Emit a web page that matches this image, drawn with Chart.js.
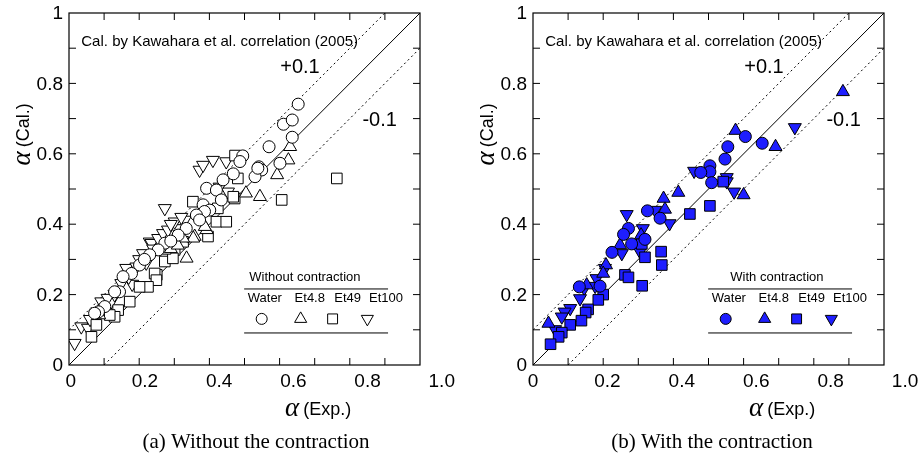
<!DOCTYPE html>
<html>
<head>
<meta charset="utf-8">
<script src="https://cdn.jsdelivr.net/npm/chart.js@4.4.1/dist/chart.umd.min.js"></script>
<style>
  html, body { margin: 0; padding: 0; background: #fff; }
  #wrap { position: relative; width: 922px; height: 466px; }
  #wrap canvas { position: absolute; top: 0; }
</style>
</head>
<body>
<div id="wrap">
  <canvas id="leftPanel" width="461" height="466" style="left:0"></canvas>
  <canvas id="rightPanel" width="461" height="466" style="left:461px"></canvas>
</div>
<script>
// [alpha Exp., alpha Cal.] pairs, without the contraction
const waterWithout = [
  [0.653, 0.741], [0.611, 0.684], [0.636, 0.696], [0.636, 0.647], [0.570, 0.620],
  [0.601, 0.573], [0.541, 0.563], [0.549, 0.554], [0.530, 0.535], [0.495, 0.594],
  [0.487, 0.578], [0.468, 0.543], [0.439, 0.526], [0.538, 0.559], [0.392, 0.502],
  [0.420, 0.497], [0.434, 0.469], [0.382, 0.455], [0.401, 0.440], [0.386, 0.436],
  [0.363, 0.426], [0.372, 0.412], [0.334, 0.388], [0.311, 0.369], [0.273, 0.346],
  [0.254, 0.327], [0.230, 0.313], [0.201, 0.284], [0.178, 0.260], [0.154, 0.251],
  [0.144, 0.208], [0.130, 0.208], [0.102, 0.166], [0.084, 0.151], [0.073, 0.147],
  [0.290, 0.352], [0.215, 0.300]
];
const et48Without = [
  [0.630, 0.620], [0.625, 0.582], [0.593, 0.540], [0.504, 0.488], [0.544, 0.478],
  [0.392, 0.384], [0.387, 0.393], [0.358, 0.365], [0.354, 0.360], [0.325, 0.360],
  [0.335, 0.303], [0.086, 0.142], [0.290, 0.330], [0.310, 0.340]
];
const et49Without = [
  [0.763, 0.530], [0.473, 0.595], [0.481, 0.530], [0.472, 0.473], [0.468, 0.478],
  [0.424, 0.445], [0.353, 0.464], [0.420, 0.407], [0.448, 0.407], [0.396, 0.365],
  [0.606, 0.469], [0.325, 0.350], [0.301, 0.327], [0.273, 0.294], [0.296, 0.303],
  [0.250, 0.256], [0.244, 0.260], [0.249, 0.241], [0.225, 0.222], [0.201, 0.222],
  [0.173, 0.180], [0.140, 0.156], [0.130, 0.137], [0.116, 0.142], [0.078, 0.114],
  [0.064, 0.080], [0.275, 0.330]
];
const et100Without = [
  [0.016, 0.062], [0.035, 0.109], [0.054, 0.105], [0.078, 0.147], [0.092, 0.180],
  [0.120, 0.180], [0.149, 0.232], [0.180, 0.230], [0.163, 0.275], [0.192, 0.279],
  [0.211, 0.317], [0.230, 0.350], [0.235, 0.346], [0.254, 0.360], [0.268, 0.374],
  [0.282, 0.384], [0.306, 0.388], [0.301, 0.407], [0.330, 0.412], [0.273, 0.445],
  [0.372, 0.554], [0.382, 0.568], [0.410, 0.582], [0.448, 0.578], [0.453, 0.492],
  [0.429, 0.506], [0.260, 0.330], [0.220, 0.290], [0.240, 0.330], [0.200, 0.300],
  [0.170, 0.250], [0.130, 0.200], [0.110, 0.190], [0.290, 0.400], [0.320, 0.420],
  [0.060, 0.130], [0.100, 0.160]
];

// [alpha Exp., alpha Cal.] pairs, with the contraction
const waterWith = [
  [0.605, 0.649], [0.653, 0.630], [0.555, 0.620], [0.547, 0.585], [0.504, 0.566],
  [0.504, 0.549], [0.478, 0.547], [0.509, 0.518], [0.326, 0.438], [0.362, 0.417],
  [0.272, 0.388], [0.258, 0.371], [0.319, 0.357], [0.281, 0.344], [0.225, 0.320],
  [0.191, 0.224], [0.132, 0.222]
];
const et48With = [
  [0.883, 0.776], [0.577, 0.666], [0.691, 0.620], [0.600, 0.483], [0.414, 0.490],
  [0.372, 0.473], [0.376, 0.442], [0.308, 0.369], [0.248, 0.341], [0.208, 0.284],
  [0.200, 0.260], [0.153, 0.227], [0.044, 0.118]
];
const et49With = [
  [0.542, 0.521], [0.504, 0.452], [0.447, 0.429], [0.310, 0.344], [0.365, 0.322],
  [0.367, 0.284], [0.319, 0.306], [0.262, 0.256], [0.272, 0.249], [0.311, 0.225],
  [0.200, 0.200], [0.186, 0.185], [0.157, 0.158], [0.150, 0.149], [0.138, 0.126],
  [0.106, 0.114], [0.082, 0.092], [0.073, 0.080], [0.050, 0.059]
];
const et100With = [
  [0.746, 0.675], [0.459, 0.551], [0.552, 0.533], [0.552, 0.521], [0.573, 0.492],
  [0.348, 0.440], [0.389, 0.402], [0.267, 0.428], [0.313, 0.388], [0.305, 0.322],
  [0.253, 0.317], [0.205, 0.275], [0.181, 0.246], [0.177, 0.224], [0.146, 0.218],
  [0.134, 0.189], [0.106, 0.161], [0.090, 0.151], [0.082, 0.137], [0.063, 0.101]
];

const fluidNames = ['Water', 'Et4.8', 'Et49', 'Et100'];
const xTickLabels = ['0', '0.2', '0.4', '0.6', '0.8', '1.0'];
const yTickLabels = ['0', '0.2', '0.4', '0.6', '0.8', '1'];
const majorTicks = [0, 0.2, 0.4, 0.6, 0.8, 1.0];
const minorTicks = [0.1, 0.2, 0.3, 0.4, 0.5, 0.6, 0.7, 0.8, 0.9];
const bandOffsets = [0, 0.1, -0.1];   // 1:1 line and the +/-0.1 band

// marker shape for each fluid (same order as fluidNames)
const markers = [
  { pointStyle: 'circle', radius: 6, rotation: 0 },
  { pointStyle: 'triangle', radius: 7.5, rotation: 0 },
  { pointStyle: 'rect', radius: 7.5, rotation: 0 },
  { pointStyle: 'triangle', radius: 7.5, rotation: 180 }
];

const SANS = '"Liberation Sans", Arial, sans-serif';
const SERIF = '"Liberation Serif", "Times New Roman", serif';

function bandLine(off) {
  const pts = off >= 0
    ? [{ x: 0, y: off }, { x: 1 - off, y: 1 }]
    : [{ x: -off, y: 0 }, { x: 1, y: 1 + off }];
  return {
    data: pts, showLine: true, pointRadius: 0, borderColor: '#000',
    borderWidth: 1, borderDash: off === 0 ? [] : [2, 3], order: 10
  };
}

function markerSet(points, m, fill) {
  return {
    data: points.map(p => ({ x: p[0], y: p[1] })),
    pointStyle: m.pointStyle, pointRadius: m.radius, pointRotation: m.rotation,
    pointBackgroundColor: fill, pointBorderColor: '#000', pointBorderWidth: 1,
    showLine: false, order: 1
  };
}

function drawAlphaTitle(ctx, label, px, py, rotate) {
  ctx.save();
  ctx.translate(px, py);
  if (rotate) ctx.rotate(-Math.PI / 2);
  ctx.textBaseline = 'alphabetic';
  ctx.textAlign = 'left';
  ctx.font = 'italic 27px ' + SERIF;
  const wa = ctx.measureText('\u03b1').width;
  ctx.font = '18px ' + SANS;
  const wl = ctx.measureText(label).width;
  const start = -(wa + 4 + wl) / 2;
  ctx.font = 'italic 27px ' + SERIF;
  ctx.fillText('\u03b1', start, 7);
  ctx.font = '18px ' + SANS;
  ctx.fillText(label, start + wa + 4, 6);
  ctx.restore();
}

// frame, inward ticks, tick labels, titles and the in-plot legend
const panelDecor = {
  id: 'panelDecor',
  afterDraw(chart, args, opt) {
    const { ctx, chartArea: a, scales: { x, y } } = chart;
    ctx.save();
    ctx.strokeStyle = '#000';
    ctx.fillStyle = '#000';
    ctx.lineWidth = 1.2;
    ctx.strokeRect(a.left, a.top, a.right - a.left, a.bottom - a.top);

    ctx.lineWidth = 1;
    ctx.beginPath();
    minorTicks.forEach(v => {
      const px = x.getPixelForValue(v), py = y.getPixelForValue(v);
      ctx.moveTo(px, a.bottom); ctx.lineTo(px, a.bottom - 7);
      ctx.moveTo(px, a.top); ctx.lineTo(px, a.top + 7);
      ctx.moveTo(a.left, py); ctx.lineTo(a.left + 7, py);
      ctx.moveTo(a.right, py); ctx.lineTo(a.right - 7, py);
    });
    ctx.stroke();

    ctx.font = '19px ' + SANS;
    ctx.textBaseline = 'middle';
    ctx.textAlign = 'center';
    majorTicks.forEach((v, i) => {
      ctx.fillText(xTickLabels[i], x.getPixelForValue(opt.labelShift + v * opt.labelStretch), a.bottom + 17);
    });
    ctx.textAlign = 'right';
    majorTicks.forEach((v, i) => {
      ctx.fillText(yTickLabels[i], a.left - 6, y.getPixelForValue(v) + 1);
    });

    drawAlphaTitle(ctx, '(Cal.)', a.left - 46, y.getPixelForValue(0.655), true);
    drawAlphaTitle(ctx, '(Exp.)', x.getPixelForValue(0.71), a.bottom + 44, false);

    ctx.font = '15px ' + SANS;
    ctx.textAlign = 'left';
    ctx.fillText('Cal. by Kawahara et al. correlation (2005)', x.getPixelForValue(0.035), y.getPixelForValue(0.918));
    ctx.font = '20px ' + SANS;
    ctx.textAlign = 'center';
    ctx.fillText('+0.1', x.getPixelForValue(0.658), y.getPixelForValue(0.844));
    ctx.fillText('-0.1', x.getPixelForValue(0.885), y.getPixelForValue(0.696));

    // legend table
    const l0 = x.getPixelForValue(0.499), l1 = x.getPixelForValue(0.909);
    ctx.beginPath();
    ctx.moveTo(l0, y.getPixelForValue(0.216)); ctx.lineTo(l1, y.getPixelForValue(0.216));
    ctx.moveTo(l0, y.getPixelForValue(0.091)); ctx.lineTo(l1, y.getPixelForValue(0.091));
    ctx.stroke();
    ctx.font = '13px ' + SANS;
    ctx.fillText(opt.legendTitle, x.getPixelForValue(opt.legendTitleX), y.getPixelForValue(0.25));
    const colX = [0.558, 0.686, 0.794, 0.903];
    const symX = [0.549, 0.66, 0.751, 0.85];
    fluidNames.forEach((name, i) => {
      ctx.fillStyle = '#000';
      ctx.fillText(name, x.getPixelForValue(colX[i]), y.getPixelForValue(0.19));
      ctx.fillStyle = opt.fill;
      ctx.strokeStyle = '#000';
      Chart.helpers.drawPoint(ctx, {
        pointStyle: markers[i].pointStyle, radius: markers[i].radius - 0.5,
        rotation: markers[i].rotation, borderWidth: 1
      }, x.getPixelForValue(symX[i]), y.getPixelForValue(0.131));
    });

    ctx.fillStyle = '#000';
    ctx.font = '21px ' + SERIF;
    ctx.textAlign = 'center';
    ctx.fillText(opt.caption, opt.captionX, 442);
    ctx.restore();
  }
};

function makePanel(id, series, fill, padding, decor) {
  const datasets = bandOffsets.map(bandLine)
    .concat(series.map((pts, i) => markerSet(pts, markers[i], fill)));
  return new Chart(document.getElementById(id), {
    type: 'scatter',
    data: { datasets },
    options: {
      responsive: false,
      animation: false,
      events: [],
      layout: { padding },
      scales: {
        x: { display: false, min: 0, max: 1 },
        y: { display: false, min: 0, max: 1 }
      },
      plugins: {
        legend: { display: false },
        tooltip: { enabled: false },
        panelDecor: Object.assign({ fill }, decor)
      }
    },
    plugins: [panelDecor]
  });
}

makePanel('leftPanel', [waterWithout, et48Without, et49Without, et100Without], '#ffffff',
  { left: 69, right: 41, top: 13, bottom: 101 },
  { labelShift: 0.005, labelStretch: 1.057, legendTitle: 'Without contraction', legendTitleX: 0.672,
    caption: '(a) Without the contraction', captionX: 256 });

makePanel('rightPanel', [waterWith, et48With, et49With, et100With], '#1e1eff',
  { left: 72, right: 38, top: 13, bottom: 101 },
  { labelShift: 0, labelStretch: 1.06, legendTitle: 'With contraction', legendTitleX: 0.695,
    caption: '(b) With the contraction', captionX: 251 });
</script>
</body>
</html>
